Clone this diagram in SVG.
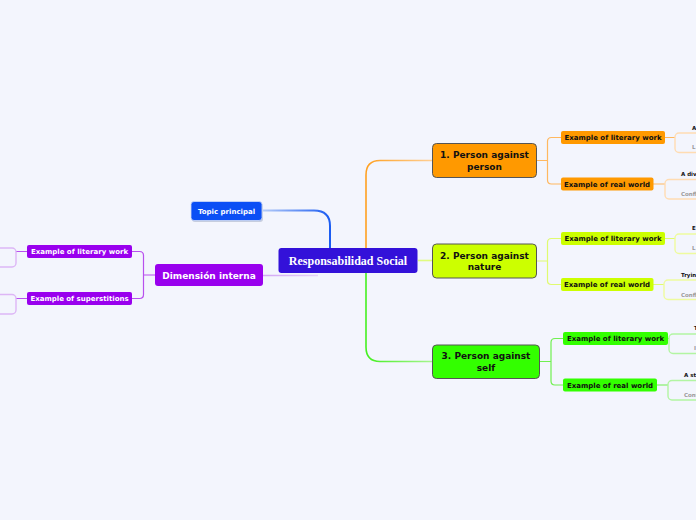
<svg xmlns="http://www.w3.org/2000/svg" width="696" height="520" viewBox="0 0 696 520">
<defs>
<linearGradient id="gBlue" gradientUnits="userSpaceOnUse" x1="263" y1="0" x2="330" y2="0">
<stop offset="0" stop-color="#b4cbf8"/><stop offset="1" stop-color="#1b5cf2"/>
</linearGradient>
<linearGradient id="gOr" gradientUnits="userSpaceOnUse" x1="366" y1="0" x2="433" y2="0">
<stop offset="0" stop-color="#ffa020"/><stop offset="1" stop-color="#ffcf95"/>
</linearGradient>
<linearGradient id="gGr" gradientUnits="userSpaceOnUse" x1="366" y1="0" x2="433" y2="0">
<stop offset="0" stop-color="#44f020"/><stop offset="1" stop-color="#a8f590"/>
</linearGradient>
<linearGradient id="gPu" gradientUnits="userSpaceOnUse" x1="263" y1="0" x2="318" y2="0">
<stop offset="0" stop-color="#d2a6f5"/><stop offset="1" stop-color="#e6d2f8"/>
</linearGradient>
</defs>
<style>
.t{font-family:"DejaVu Sans","Liberation Sans",sans-serif;font-weight:bold;text-anchor:middle}
.main{font-size:9px;fill:#111}
.sub{font-size:7px;fill:#111}
.leafT{font-family:"DejaVu Sans",sans-serif;font-weight:bold;font-size:5.5px;fill:#111}
.leafN{font-family:"DejaVu Sans",sans-serif;font-weight:bold;font-size:5.5px;fill:#9a9a9a}
.c{fill:none;stroke-width:1.2}
.co{stroke:#ffb860}.cy{stroke:#e0fb70}.cg{stroke:#70f050}.cp{stroke:#b850ee}
.lo{fill:none;stroke:#ffdcb2;stroke-width:1.4}
.ly{fill:none;stroke:#eefb9e;stroke-width:1.4}
.lg{fill:none;stroke:#b2f5a2;stroke-width:1.4}
.lp{fill:none;stroke:#ddb6f6;stroke-width:1.4}
</style>
<rect width="696" height="520" fill="#f3f5fd"/>

<g id="connectors">
<path d="M263,210.5 H314 Q330,210.5 330,226 V248" fill="none" stroke="url(#gBlue)" stroke-width="2"/>
<path d="M366,248 V175 Q366,160.5 380,160.5 H433" fill="none" stroke="url(#gOr)" stroke-width="1.6"/>
<path d="M366,273 V347 Q366,361.5 380,361.5 H433" fill="none" stroke="url(#gGr)" stroke-width="1.6"/>
<path d="M418,260.5 H433" fill="none" stroke="#e0fb80" stroke-width="1.6"/>
<path d="M318,275.5 H263" fill="none" stroke="url(#gPu)" stroke-width="1.6"/>

<path class="c co" d="M536,160.5 H547.5 M561,137.5 H551.5 Q547.5,137.5 547.5,141.5 V180 Q547.5,184 551.5,184 H561"/>
<path class="c co" d="M664,137.5 H675 M653,184 H665"/>
<path class="c cy" d="M536,261 H547.5 M561,238.5 H551.5 Q547.5,238.5 547.5,242.5 V280.5 Q547.5,284.5 551.5,284.5 H561"/>
<path class="c cy" d="M665,238.5 H675 M653,284.5 H664"/>
<path class="c cg" d="M539,361.5 H551 M563,338.5 H555 Q551,338.5 551,342.5 V381 Q551,385 555,385 H563"/>
<path class="c cg" d="M668,338.5 H669 M657,385 H668"/>
<path class="c cp" d="M155,275 H143.5 M132,251.5 H139.5 Q143.5,251.5 143.5,255.5 V294.5 Q143.5,298.5 139.5,298.5 H132"/>
<path class="c cp" d="M27,251.5 H16 M27,298.5 H16"/>
</g>

<g id="central">
<rect x="278.5" y="248" width="139" height="25" rx="3" fill="#3311d9"/>
<text x="348" y="264.5" text-anchor="middle" font-family="Liberation Serif,serif" font-weight="bold" font-size="12" fill="#fff">Responsabilidad Social</text>
</g>

<g id="topic-principal">
<rect x="192" y="203" width="71" height="19" rx="3" fill="#9aa6c0" opacity="0.5"/>
<rect x="191" y="201.5" width="71" height="19" rx="3" fill="#0b4ff5" stroke="#d0dcf5" stroke-width="0.8"/>
<text class="t" x="226.5" y="213.5" font-size="7" fill="#fff">Topic principal</text>
</g>

<g id="dimension-interna">
<rect x="155" y="264" width="108" height="22" rx="3" fill="#9900ee"/>
<text class="t" x="209" y="278.5" font-size="9" fill="#fff">Dimensión interna</text>
</g>

<g id="node1">
<rect x="432.5" y="143.5" width="104" height="34" rx="4" fill="#ff9900" stroke="#555" stroke-width="1"/>
<text class="t main" x="484.5" y="158">1. Person against</text>
<text class="t main" x="484.5" y="169.5">person</text>
</g>
<g id="node2">
<rect x="432.5" y="244" width="104" height="34" rx="4" fill="#ccff00" stroke="#555" stroke-width="1"/>
<text class="t main" x="484.5" y="258.5">2. Person against</text>
<text class="t main" x="484.5" y="270">nature</text>
</g>
<g id="node3">
<rect x="432.5" y="345" width="107" height="33.5" rx="4" fill="#33ff00" stroke="#555" stroke-width="1"/>
<text class="t main" x="486" y="359">3. Person against</text>
<text class="t main" x="486" y="370.5">self</text>
</g>

<g id="o-lit">
<rect x="561" y="131" width="104" height="13" rx="2" fill="#ff9900"/>
<text class="t sub" x="613" y="140">Example of literary work</text>
</g>
<g id="o-real">
<rect x="561" y="177.5" width="92.5" height="13" rx="2" fill="#ff9900"/>
<text class="t sub" x="607" y="186.5">Example of real world</text>
</g>
<g id="y-lit">
<rect x="561" y="232" width="104" height="13" rx="2" fill="#ccff00"/>
<text class="t sub" x="613" y="241">Example of literary work</text>
</g>
<g id="y-real">
<rect x="561" y="278" width="92.5" height="13" rx="2" fill="#ccff00"/>
<text class="t sub" x="607" y="287">Example of real world</text>
</g>
<g id="g-lit">
<rect x="563" y="332" width="105" height="13" rx="2" fill="#33ff00"/>
<text class="t sub" x="615.5" y="341">Example of literary work</text>
</g>
<g id="g-real">
<rect x="563" y="378.5" width="94" height="13" rx="2" fill="#33ff00"/>
<text class="t sub" x="610" y="387.5">Example of real world</text>
</g>
<g id="p-lit">
<rect x="27" y="245" width="105" height="13" rx="2" fill="#9900ee"/>
<text class="t sub" x="79.5" y="254" fill="#fff" style="fill:#fff">Example of literary work</text>
</g>
<g id="p-sup">
<rect x="27" y="292" width="105" height="13" rx="2" fill="#9900ee"/>
<text class="t sub" x="79.5" y="301" style="fill:#fff">Example of superstitions</text>
</g>

<g id="o-lit-leaf">
<rect class="lo" x="675" y="133" width="50" height="19.5" rx="4"/>
<text class="leafT" x="692" y="130">A</text>
<text class="leafN" x="692" y="149">L</text>
</g>
<g id="o-real-leaf">
<rect class="lo" x="665" y="179.5" width="60" height="19.5" rx="4"/>
<text class="leafT" x="681" y="175.5">A div</text>
<text class="leafN" x="681" y="196">Confl</text>
</g>
<g id="y-lit-leaf">
<rect class="ly" x="675" y="234" width="50" height="19.5" rx="4"/>
<text class="leafT" x="692" y="230">E</text>
<text class="leafN" x="692" y="249.5">L</text>
</g>
<g id="y-real-leaf">
<rect class="ly" x="664" y="280" width="60" height="19.5" rx="4"/>
<text class="leafT" x="681" y="276.5">Tryin</text>
<text class="leafN" x="681" y="296.5">Confl</text>
</g>
<g id="g-lit-leaf">
<rect class="lg" x="669" y="334" width="60" height="19.5" rx="4"/>
<text class="leafT" x="694" y="330">T</text>
<text class="leafN" x="694" y="350">I</text>
</g>
<g id="g-real-leaf">
<rect class="lg" x="668" y="380.5" width="60" height="19.5" rx="4"/>
<text class="leafT" x="684" y="377">A st</text>
<text class="leafN" x="684" y="397">Conf</text>
</g>
<g id="p-lit-leaf">
<rect class="lp" x="-40" y="248" width="56" height="19" rx="4"/>
</g>
<g id="p-sup-leaf">
<rect class="lp" x="-40" y="294.5" width="56" height="19.5" rx="4"/>
</g>
</svg>
